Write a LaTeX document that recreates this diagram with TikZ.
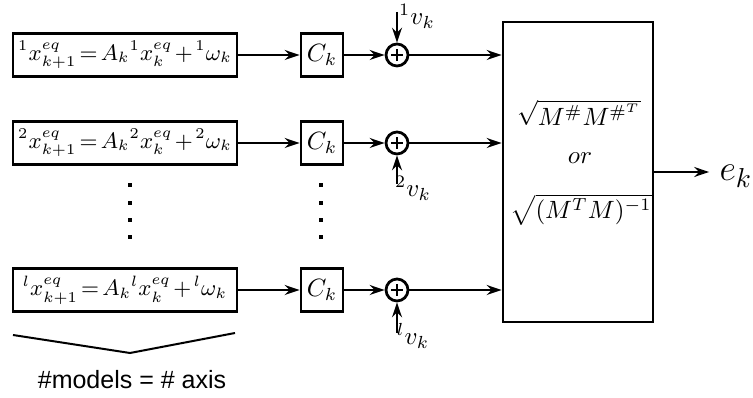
\documentclass[tikz,border=0pt]{standalone}
\usepackage{fontspec}
\newfontfamily\labelsans{Liberation Sans}
\usetikzlibrary{arrows.meta,calc}
\newcommand{\tighteq}{\fontsize{9}{11}\selectfont\thickmuskip=2.5mu\medmuskip=2mu}
\begin{document}
\begin{tikzpicture}[x=0.4pt,y=-0.4pt,
  blk/.style={draw,line width=1.1pt,inner sep=0pt,minimum height=17.2pt},
  eqbox/.style={blk,minimum width=89.6pt,font=\tighteq},
  ckbox/.style={blk,minimum width=16.8pt},
  sumnode/.style={draw,circle,line width=1.1pt,minimum size=8.8pt,inner sep=0pt,
    path picture={\draw[line width=0.9pt]
      ($(path picture bounding box.center)+(-2.4pt,0)$) -- ++(4.8pt,0)
      ($(path picture bounding box.center)+(0,-2.4pt)$) -- ++(0,4.8pt);}},
  conn/.style={line width=0.85pt,-{Stealth[length=6pt,width=4pt,inset=2pt]}},
  dotmark/.style={fill=black},
]
\useasboundingbox (0,0) rectangle (753,398);

% model boxes
\node[eqbox] (m1) at (125,55) {$^1x^{eq}_{k+1} = A_k{}^1x^{eq}_k + {}^1\omega_k$};
\node[eqbox] (m2) at (125,143) {$^2x^{eq}_{k+1} = A_k{}^2x^{eq}_k + {}^2\omega_k$};
\node[eqbox] (m3) at (125,290) {$^lx^{eq}_{k+1} = A_k{}^lx^{eq}_k + {}^l\omega_k$};

% C_k boxes
\node[ckbox] (c1) at (322,55) {$C_k$};
\node[ckbox] (c2) at (322,143) {$C_k$};
\node[ckbox] (c3) at (322,290) {$C_k$};

% sum nodes
\node[sumnode] (s1) at (397,55) {};
\node[sumnode] (s2) at (397,143) {};
\node[sumnode] (s3) at (397,290) {};

% big box
\node[draw,line width=1.1pt,minimum width=60pt,minimum height=120pt,inner sep=0pt] (big) at (578,172) {};
\node (f1) at (579,113) {$\sqrt{M^{\#}M^{\#^T}}$};
\node (or) at (580,158) {$or$};
\node (f2) at (581,210) {$\sqrt{(M^TM)^{-1}}$};

% output
\node[font=\fontsize{15}{18}\selectfont,inner sep=4pt] (ek) at (736,176) {$e_k$};
\draw[conn] (big.east) -- (big.east -| ek.west);

% connectors
\foreach \i in {1,2,3}{
  \draw[conn] (m\i) -- (c\i);
  \draw[conn] (c\i) -- (s\i);
  \draw[conn] (s\i) -- (s\i -| big.west);
}

% noise inputs
\coordinate (v1s) at (397,12);
\coordinate (v2s) at (397,184);
\coordinate (v3s) at (397,333);
\draw[conn] (v1s) -- (s1.north);
\draw[conn] (v2s) -- (s2.south);
\draw[conn] (v3s) -- (s3.south);
\node (v1l) at (417,16) {$^1v_k$};
\node (v2l) at (413,188) {$^2v_k$};
\node (v3l) at (413,336) {$^lv_k$};

% dots
\foreach \y in {185,203,220,237}{
  \fill[dotmark] (130,\y) +(-0.8pt,-0.8pt) rectangle +(0.8pt,0.8pt);
  \fill[dotmark] (321,\y) +(-0.8pt,-0.8pt) rectangle +(0.8pt,0.8pt);
}

% brace
\coordinate (b1) at (13,335);
\coordinate (b2) at (130,353);
\coordinate (b3) at (235,333);
\draw[line width=0.8pt] (b1) -- (b2) -- (b3);
\node[font=\labelsans] (cap) at (132,380) {\#models = \# axis};
\end{tikzpicture}
\end{document}
